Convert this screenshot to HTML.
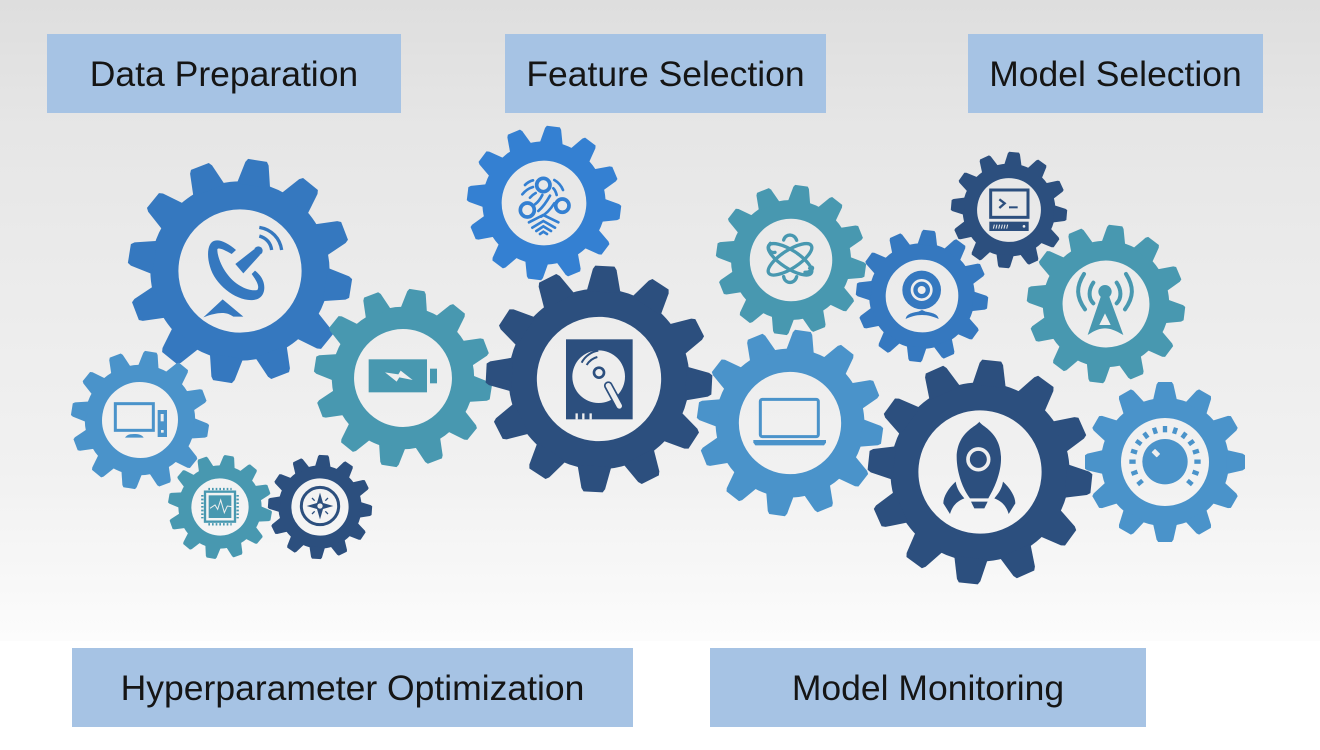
<!DOCTYPE html>
<html><head><meta charset="utf-8"><style>
html,body{margin:0;padding:0;width:1320px;height:750px;overflow:hidden;background:#fff}
#bg{position:absolute;left:0;top:0;width:1320px;height:641px;background:linear-gradient(180deg,#dedede 0,#e6e6e6 130px,#ececec 300px,#f1f1f1 470px,#f7f7f7 570px,#fcfcfc 641px)}
.b{position:absolute;height:79px;background:#a6c3e4;color:#151515;font:35.5px/81px "Liberation Sans",sans-serif;text-align:center;white-space:nowrap}
svg{position:absolute;left:0;top:0}
</style></head><body>
<div id="bg"></div>
<div class="b" style="left:47px;top:34px;width:354px">Data Preparation</div>
<div class="b" style="left:505px;top:34px;width:321px">Feature Selection</div>
<div class="b" style="left:968px;top:34px;width:295px">Model Selection</div>
<div class="b" style="left:72px;top:648px;width:561px">Hyperparameter Optimization</div>
<div class="b" style="left:710px;top:648px;width:436px">Model Monitoring</div>
<svg width="1320" height="750" viewBox="0 0 1320 750" xmlns="http://www.w3.org/2000/svg">
<defs>
<polygon id="t" points="-15,-77 -10.5,-97 -8.5,-100 8.5,-100 10.5,-97 15,-77" fill="currentColor"/>
<g id="gear">
<circle r="67.5" fill="none" stroke="currentColor" stroke-width="25"/>
<use href="#t"/><use href="#t" transform="rotate(30)"/><use href="#t" transform="rotate(60)"/><use href="#t" transform="rotate(90)"/><use href="#t" transform="rotate(120)"/><use href="#t" transform="rotate(150)"/><use href="#t" transform="rotate(180)"/><use href="#t" transform="rotate(210)"/><use href="#t" transform="rotate(240)"/><use href="#t" transform="rotate(270)"/><use href="#t" transform="rotate(300)"/><use href="#t" transform="rotate(330)"/>
</g>
</defs>
<!-- gears -->
<use href="#gear" style="color:#3578bf" transform="translate(240 271) rotate(9) scale(1.12)"/>
<use href="#gear" style="color:#4a93ca" transform="translate(140 420) rotate(9) scale(.69)"/>
<use href="#gear" style="color:#4898b0" transform="translate(403 378) rotate(9) scale(.89)"/>
<use href="#gear" style="color:#4898b0" transform="translate(220 507) rotate(10) scale(.52)"/>
<use href="#gear" style="color:#2c4f7e" transform="translate(320 507) rotate(4) scale(.52)"/>
<use href="#gear" style="color:#3480d2" transform="translate(544 203) rotate(7) scale(.77)"/>
<use href="#gear" style="color:#2c4f7e" transform="translate(599 379) rotate(3) scale(1.13)"/>
<use href="#gear" style="color:#4898b0" transform="translate(791 260) rotate(8) scale(.75)"/>
<use href="#gear" style="color:#4a93ca" transform="translate(790 423) rotate(8) scale(.93)"/>
<use href="#gear" style="color:#2c4f7e" transform="translate(1009 210) rotate(5) scale(.58)"/>
<use href="#gear" style="color:#3578bf" transform="translate(922 296) rotate(6) scale(.66)"/>
<use href="#gear" style="color:#4898b0" transform="translate(1106 304) rotate(7) scale(.79)"/>
<use href="#gear" style="color:#2c4f7e" transform="translate(980 472) rotate(6) scale(1.12)"/>
<use href="#gear" style="color:#4a93ca" transform="translate(1165 462) rotate(0) scale(.8)"/>

<!-- satellite dish -->
<g transform="translate(180 210) scale(.33333)" fill="#3578bf">
 <path d="M105 92C85 95 78 130 90 170C105 225 170 275 220 270C250 268 258 240 250 215C245 200 235 190 225 182L215 192C228 210 240 228 232 240C205 245 165 225 140 190C125 170 112 140 112 118C115 112 130 118 155 132L168 120C145 100 120 88 105 92Z"/>
 <path d="M166 162L222 118L240 135L190 190Z"/>
 <circle cx="235" cy="122" r="13"/>
 <path d="M238 78C262 85 272 100 275 120M238 52C275 58 300 85 305 120" fill="none" stroke="#3578bf" stroke-width="10"/>
 <path d="M70 322L128 268L190 320L160 320C140 305 115 305 70 322Z"/>
</g>

<!-- left icons -->
<g transform="translate(60 120) scale(.33333)">
 <g fill="#4898b0">
  <rect x="926" y="718" width="175" height="99"/><rect x="1110" y="746" width="21" height="44"/>
  <path d="M975 757L1015 763L1022 752L1058 780L1018 772L1010 785Z" fill="#eeeeee"/>
 </g>
 <g fill="#4a93ca" stroke="none">
  <rect x="166" y="851" width="114" height="80" fill="none" stroke="#4a93ca" stroke-width="9"/>
  <path d="M195 953C200 944 210 942 222 942C236 942 246 944 251 953Z"/>
  <rect x="293" y="870" width="28" height="81"/><rect x="302" y="882" width="9" height="22" fill="#eee"/><rect x="303" y="930" width="8" height="8" fill="#eee"/>
 </g>
 <g fill="none" stroke="#4898b0">
  <rect x="435" y="1115" width="90" height="90" stroke-width="7"/>
  <rect x="446" y="1126" width="68" height="68" fill="#4898b0" stroke="none"/>
  <path d="M450 1165L465 1155L473 1168L482 1140L493 1178L502 1158L515 1160" stroke="#eee" stroke-width="3"/>
  <path d="M445 1107H515M445 1213H515M427 1125V1195M533 1125V1195" stroke-width="7" stroke-dasharray="5 6"/>
 </g>
 <g fill="#2c4f7e">
  <circle cx="780" cy="1158" r="56" fill="none" stroke="#2c4f7e" stroke-width="9"/>
  <path d="M780 1118L789 1149L820 1158L789 1167L780 1198L771 1167L740 1158L771 1149Z"/>
  <circle cx="780" cy="1158" r="8" fill="#eee"/>
  <path d="M756 1134L764 1142M804 1134L796 1142M756 1182L764 1174M804 1182L796 1174" stroke="#2c4f7e" stroke-width="4"/>
 </g>
</g>

<!-- fingerprint -->
<g transform="translate(505 165) scale(.33333)" fill="none" stroke="#3480d2" stroke-linecap="round">
 <g stroke-width="11">
  <circle cx="115" cy="60" r="20"/><circle cx="67" cy="135" r="21"/><circle cx="172" cy="122" r="20"/>
 </g>
 <g stroke-width="8">
  <path d="M60 60C68 52 76 48 84 46M52 88C60 78 70 70 84 66M75 98C80 92 85 88 92 84M148 45C160 52 168 60 174 75M145 70C150 75 153 82 155 90"/>
  <path d="M135 92C125 110 115 125 100 138M112 90C106 102 98 112 90 118M148 115C135 135 122 148 108 155"/>
  <path d="M72 172L115 150L160 172M82 188L115 168L150 188M94 198L115 184L138 198M105 207L115 200L126 207"/>
 </g>
</g>

<!-- center icons -->
<g transform="translate(460 120) scale(.33333)">
 <rect x="318" y="658" width="200" height="240" fill="#2c4f7e"/>
 <circle cx="416" cy="770" r="79" fill="#eee"/>
 <circle cx="417" cy="758" r="15" fill="none" stroke="#2c4f7e" stroke-width="8"/>
 <path d="M365 728C375 708 395 695 415 692M380 735C388 722 400 714 412 711" fill="none" stroke="#2c4f7e" stroke-width="6"/>
 <path d="M445 797L478 858" stroke="#2c4f7e" stroke-width="26" stroke-linecap="round"/>
 <path d="M445 797L478 858" stroke="#eee" stroke-width="16" stroke-linecap="round"/>
 <path d="M350 880V898M370 880V898M392 880V898" stroke="#eee" stroke-width="7"/>
 <g fill="#4a93ca">
  <rect x="901" y="838" width="174" height="112" rx="6" fill="none" stroke="#4a93ca" stroke-width="9"/>
  <path d="M880 960H1098V968L1092 976H886L880 968Z"/>
 </g>
</g>

<!-- atom -->
<g transform="translate(755 225) scale(.33333)" fill="none" stroke="#4898b0" stroke-width="10" stroke-linecap="round">
 <ellipse cx="105" cy="103" rx="76" ry="27" transform="rotate(-33 105 103)"/>
 <ellipse cx="105" cy="103" rx="76" ry="27" transform="rotate(33 105 103)"/>
 <path d="M86 45C92 25 118 25 125 46M86 155C90 178 120 178 125 155M46 55C34 68 44 86 60 82M164 130C178 118 176 142 150 142"/>
</g>

<!-- right icons -->
<g transform="translate(860 140) scale(.33333)">
 <g fill="#2c4f7e">
  <rect x="392" y="150" width="112" height="82" fill="none" stroke="#2c4f7e" stroke-width="9"/>
  <path d="M418 178L434 190L418 204" fill="none" stroke="#2c4f7e" stroke-width="7"/>
  <rect x="447" y="199" width="26" height="6"/>
  <rect x="388" y="245" width="118" height="28"/>
  <path d="M400 266l3-12M408 266l3-12M416 266l3-12M424 266l3-12M432 266l3-12M440 266l3-12" stroke="#eee" stroke-width="3"/>
  <circle cx="492" cy="259" r="4" fill="#eee"/>
 </g>
 <g fill="#3578bf">
  <circle cx="185" cy="450" r="58"/>
  <circle cx="185" cy="450" r="29" fill="none" stroke="#eee" stroke-width="8"/>
  <circle cx="185" cy="450" r="12" fill="#eee"/>
  <path d="M137 537C140 520 160 518 175 515L186 510L197 515C212 518 233 520 236 537C220 530 205 525 186 525C167 525 152 530 137 537Z"/>
 </g>
 <g fill="#4a93ca">
  <circle cx="915" cy="965" r="68"/>
  <rect x="880" y="928" width="15" height="22" rx="2" fill="#eee" transform="rotate(-45 888 939)"/>
  <g stroke="#4a93ca" stroke-width="13" stroke-linecap="butt">
   <path d="M915 858V877" transform="rotate(-130 915 965)"/><path d="M915 858V877" transform="rotate(-110 915 965)"/><path d="M915 858V877" transform="rotate(-90 915 965)"/><path d="M915 858V877" transform="rotate(-72 915 965)"/><path d="M915 858V877" transform="rotate(-54 915 965)"/><path d="M915 858V877" transform="rotate(-36 915 965)"/><path d="M915 858V877" transform="rotate(-18 915 965)"/><path d="M915 858V877"/><path d="M915 858V877" transform="rotate(18 915 965)"/><path d="M915 858V877" transform="rotate(36 915 965)"/><path d="M915 858V877" transform="rotate(54 915 965)"/><path d="M915 858V877" transform="rotate(72 915 965)"/><path d="M915 858V877" transform="rotate(90 915 965)"/><path d="M915 858V877" transform="rotate(110 915 965)"/><path d="M915 858V877" transform="rotate(130 915 965)"/>
  </g>
 </g>
</g>

<!-- rocket -->
<g transform="translate(925 410) scale(.33333)" fill="#2c4f7e">
 <path d="M163 35C170 50 225 65 228 140C230 190 205 240 190 265H135C115 240 95 190 95 140C98 65 155 50 163 35Z"/>
 <circle cx="160" cy="148" r="31" fill="none" stroke="#eee" stroke-width="11"/>
 <path d="M138 275H188L178 295H148Z"/>
 <path d="M92 215C70 235 55 260 55 280L75 312C80 295 90 275 118 265C105 250 95 235 92 215Z"/>
 <path d="M234 215C256 235 271 260 271 280L251 312C246 295 236 275 208 265C221 250 231 235 234 215Z"/>
</g>

<!-- antenna -->
<g transform="translate(1060 260) scale(.33333)" fill="#4898b0">
 <circle cx="135" cy="95" r="20"/>
 <path d="M124 105H146L190 225C165 210 150 205 135 205C120 205 105 210 83 225Z"/>
 <path d="M135 160L118 195H152Z" fill="#eee"/>
 <path d="M100 68C85 90 85 115 100 130M170 68C185 90 185 115 170 130M72 42C48 80 48 110 75 148M198 42C222 80 222 110 195 148" fill="none" stroke="#4898b0" stroke-width="12" stroke-linecap="round"/>
</g>
</svg>
</body></html>
